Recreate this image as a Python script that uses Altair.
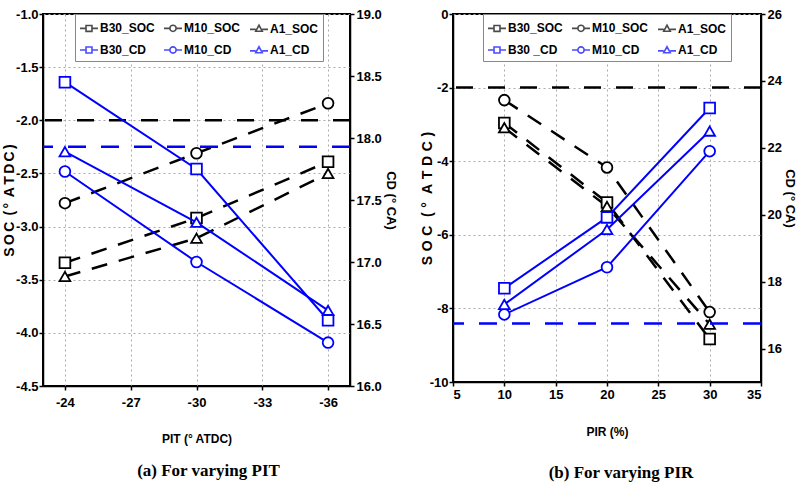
import altair as alt
import pandas as pd

# Panel (a): pilot injection timing sweep
pit = [-24, -30, -36]
pit_b30_soc = [-3.34, -2.92, -2.39]
pit_m10_soc = [-2.78, -2.31, -1.84]
pit_a1_soc = [-3.47, -3.11, -2.50]
pit_b30_cd = [18.45, 17.75, 16.53]
pit_m10_cd = [17.73, 17.00, 16.35]
pit_a1_cd = [17.89, 17.32, 16.61]

# Panel (b): pilot injection ratio sweep
pir = [10, 20, 30]
pir_b30_soc = [-2.96, -5.12, -8.83]
pir_m10_soc = [-2.34, -4.17, -8.10]
pir_a1_soc = [-3.09, -5.23, -8.43]
pir_b30_cd = [17.80, 19.92, 23.19]
pir_m10_cd = [17.02, 18.43, 21.90]
pir_a1_cd = [17.32, 19.56, 22.50]

# Baseline levels shown as dashed horizontal lines (panel a, panel b)
soc_ref = [-2.0, -2.0]
cd_ref = [17.93, 16.75]

fuels = ["B30", "M10", "A1"]
marker_shapes = ["square", "circle", "triangle-up"]

# legend entries, listed column by column (3 columns x 2 rows)
legend_a = ["B30_SOC", "B30_CD", "M10_SOC", "M10_CD", "A1_SOC", "A1_CD"]
legend_b = ["B30_SOC", "B30 _CD", "M10_SOC", "M10_CD", "A1_SOC", "A1_CD"]

NARROW = "Liberation Sans Narrow, Arial Narrow, Liberation Sans, sans-serif"
SANS = "Liberation Sans, Arial, sans-serif"
SERIF = "Liberation Serif, Times New Roman, serif"
BLUE = "#0000ff"


def spaced_soc_title(sp):
    # letter-spaced "SOC (° ATDC)"
    return sp.join("SOC") + sp + " (" + sp + "°" + sp + " " + sp.join("ATDC") + sp + ")"


# legend glyphs: marker with a short line stub on either side
SQ = "M-1,0H-0.33M0.33,0H1M-0.33,-0.33H0.33V0.33H-0.33Z"
CI = "M-1,0H-0.35M0.35,0H1M-0.35,0A0.35,0.35 0 1,0 0.35,0A0.35,0.35 0 1,0 -0.35,0"
TR = "M-1,0.1H-0.36M0.36,0.1H1M-0.36,0.3L0,-0.36L0.36,0.3Z"
legend_paths = [SQ, SQ, CI, CI, TR, TR]
legend_colors = ["black", BLUE] * 3

HYPHEN = "replace(datum.label, '\u2212', '-')"


def long_table(xs, soc_lists, cd_lists):
    rows = []
    for fuel, soc_vals, cd_vals in zip(fuels, soc_lists, cd_lists):
        for x, s, c in zip(xs, soc_vals, cd_vals):
            rows.append({"x": x, "fuel": fuel, "soc": s, "cd": c})
    return pd.DataFrame(rows)


def axis_style(**kw):
    base = dict(
        labelFont=NARROW, labelFontSize=13, labelFontWeight="bold", labelColor="black",
        domainColor="black", domainWidth=1.5, tickColor="black", tickSize=4, tickWidth=1.5,
        titleColor="black", titleFontWeight="bold", labelExpr=HYPHEN,
    )
    base.update(kw)
    return alt.Axis(**base)


def panel(xs, soc_lists, cd_lists, x_scale, x_axis, soc_scale, soc_axis, cd_scale, cd_axis,
          labels, legend_x, soc_level, cd_level, caption, caption_dx, caption_offset, w, h):
    df = long_table(xs, soc_lists, cd_lists)
    X = alt.X("x:Q", scale=x_scale, axis=x_axis)
    Y_soc = alt.Y("soc:Q", scale=soc_scale, axis=soc_axis)
    Y_cd = alt.Y("cd:Q", scale=cd_scale, axis=cd_axis)

    soc_rule = alt.Chart(pd.DataFrame({"soc": [soc_level]})).mark_rule(
        color="black", strokeDash=[17, 15], strokeWidth=2.5
    ).encode(y=Y_soc)
    soc_lines = alt.Chart(df).mark_line(
        color="black", strokeDash=[16, 12], strokeWidth=2.5
    ).encode(x=X, y=Y_soc, detail="fuel:N")
    soc_points = [
        alt.Chart(df).transform_filter(alt.datum.fuel == f).mark_point(
            shape=s, size=115, filled=True, fill="white", stroke="black", strokeWidth=1.8, opacity=1
        ).encode(x=X, y=Y_soc)
        for f, s in zip(fuels, marker_shapes)
    ]
    key = alt.Legend(
        title=None, orient="none", legendX=legend_x, legendY=0, columns=3,
        columnPadding=5, rowPadding=5, symbolSize=324, symbolStrokeWidth=1.6,
        labelFont=NARROW, labelFontSize=12, labelFontWeight="bold", labelColor="black",
        labelOffset=1, strokeColor="#888888", fillColor="white", padding=4,
    )
    legend_layer = alt.Chart(pd.DataFrame({"entry": labels})).transform_filter("false").mark_point(
        filled=False
    ).encode(
        shape=alt.Shape("entry:N", scale=alt.Scale(domain=labels, range=legend_paths), legend=key),
        color=alt.Color("entry:N", scale=alt.Scale(domain=labels, range=legend_colors), legend=key),
    )

    cd_rule = alt.Chart(pd.DataFrame({"cd": [cd_level]})).mark_rule(
        color=BLUE, strokeDash=[18, 15], strokeWidth=2.5
    ).encode(y=Y_cd)
    cd_lines = alt.Chart(df).mark_line(color=BLUE, strokeWidth=2).encode(x=X, y=Y_cd, detail="fuel:N")
    cd_points = [
        alt.Chart(df).transform_filter(alt.datum.fuel == f).mark_point(
            shape=s, size=115, filled=True, fill="white", stroke=BLUE, strokeWidth=1.8, opacity=1
        ).encode(x=X, y=Y_cd)
        for f, s in zip(fuels, marker_shapes)
    ]

    soc_layer = alt.layer(soc_rule, soc_lines, *soc_points, legend_layer)
    cd_layer = alt.layer(cd_rule, cd_lines, *cd_points)
    return alt.layer(soc_layer, cd_layer).resolve_scale(y="independent").properties(
        width=w, height=h,
        title=alt.TitleParams(caption, orient="bottom", font=SERIF, fontSize=17, fontWeight="bold",
                              color="black", offset=caption_offset, dx=caption_dx),
    )


grid = dict(grid=True, gridColor="#aaaaaa", gridDash=[2, 3], gridWidth=1)

panel_a = panel(
    pit,
    [pit_b30_soc, pit_m10_soc, pit_a1_soc],
    [pit_b30_cd, pit_m10_cd, pit_a1_cd],
    alt.Scale(domain=[-37, -23], reverse=True, nice=False, zero=False),
    axis_style(values=[-24, -27, -30, -33, -36], format="d", title="PIT (° ATDC)",
               titleFont=NARROW, titleFontSize=12, titlePadding=24, labelPadding=6, **grid),
    alt.Scale(domain=[-4.5, -1.0], nice=False, zero=False),
    axis_style(values=[-4.5, -4.0, -3.5, -3.0, -2.5, -2.0, -1.5, -1.0], format=".1f",
               title=spaced_soc_title("\u2006"), titleFont=SANS, titleFontSize=14, titlePadding=-1,
               labelPadding=1, **grid),
    alt.Scale(domain=[16, 19], nice=False, zero=False),
    axis_style(values=[16.0, 16.5, 17.0, 17.5, 18.0, 18.5, 19.0], format=".1f", orient="right",
               title="CD (° CA)", titleFont=SANS, titleFontSize=13, titlePadding=2,
               labelPadding=2, grid=False),
    legend_a, 32, soc_ref[0], cd_ref[0], "(a)  For varying PIT", 12, 19, 307, 372,
)

panel_b = panel(
    pir,
    [pir_b30_soc, pir_m10_soc, pir_a1_soc],
    [pir_b30_cd, pir_m10_cd, pir_a1_cd],
    alt.Scale(domain=[5, 35], nice=False, zero=False),
    axis_style(values=[5, 10, 15, 20, 25, 30, 35], format="d", title="PIR (%)",
               titleFont=NARROW, titleFontSize=12, titlePadding=25, labelPadding=2, **grid),
    alt.Scale(domain=[-10, 0], nice=False, zero=False),
    axis_style(values=[-10, -8, -6, -4, -2, 0], format="d",
               title=spaced_soc_title("\u2004"), titleFont=SANS, titleFontSize=14, titlePadding=-5,
               labelPadding=1, **grid),
    alt.Scale(domain=[15, 26], nice=False, zero=False),
    axis_style(values=[16, 18, 20, 22, 24, 26], format="d", orient="right",
               title="CD (° CA)", titleFont=SANS, titleFontSize=13, titlePadding=1,
               labelPadding=2, grid=False),
    legend_b, 30, soc_ref[1], cd_ref[1], "(b)  For varying PIR", 14, 28, 308, 368,
)

chart = alt.hconcat(panel_a, panel_b, spacing=21).resolve_scale(
    color="independent", shape="independent"
).properties(
    padding={"left": 1, "top": 7, "right": 0, "bottom": 0},
    background="white",
).configure_view(stroke="black", strokeWidth=2)

chart.save("out.html", embed_options={"renderer": "svg", "actions": False})
